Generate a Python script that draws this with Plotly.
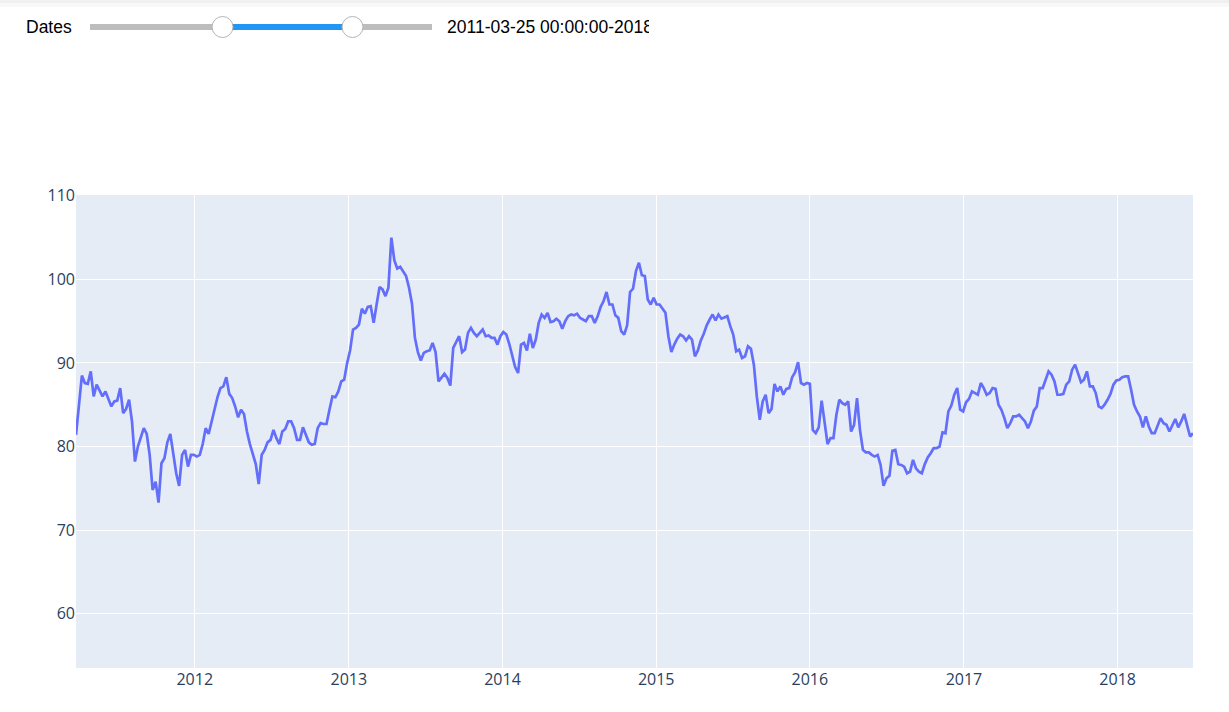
import pandas as pd
import plotly.graph_objects as go

# ---- data (weekly readings from the reference) ----
start_date = "2011-03-25"
seg_2011 = [81.4, 85, 88.5, 87.6, 87.5, 89, 86, 87.4, 86.6, 86, 86.6, 85.6, 84.8, 85.4, 85.5, 87, 84, 84.5,
            85.6, 83, 78.2, 80, 81, 82.2, 81.5, 79, 74.8, 75.8, 73.3, 78, 78.6, 80.5, 81.5, 79, 76.8, 75.3,
            79, 79.6, 77.6, 79, 79, 78.8, 79, 80.3, 82.2, 81.5, 83, 84.5]
seg_2012 = [85.9, 87, 87.2, 88.3, 86.3, 85.8, 84.8, 83.5, 84.4, 83.9, 81.8, 80.3, 79, 77.9, 75.5, 79, 79.6,
            80.5, 80.8, 82, 81, 80.3, 81.8, 82.1, 83, 83, 82.2, 80.8, 80.8, 82.3, 81.4, 80.5, 80.2, 80.3,
            82.2, 82.8, 82.7, 82.7, 84.4, 86, 85.9, 86.6, 87.8, 88, 90]
seg_2013 = [91.5, 94, 94.2, 94.6, 96.5, 95.9, 96.7, 96.8, 94.8, 97, 99.1, 98.8, 98, 99, 105, 102.3, 101.3,
            101.5, 101, 100.4, 99, 97.1, 93, 91.3, 90.3, 91.2, 91.4, 91.5, 92.4, 91.3, 87.8, 88.3, 88.7,
            88.2, 87.3, 91.8, 92.6, 93.2, 91.3, 91.6, 93.6, 94.2, 93.6, 93.2, 93.6, 94, 93.2, 93.3]
seg_2014 = [93, 93, 92.2, 93.2, 93.7, 93.4, 92.3, 91, 89.5, 88.8, 92.2, 92.4, 91.5, 93.5, 91.8, 92.8, 94.8,
            95.8, 95.4, 96, 94.9, 95, 95.3, 95, 94.1, 95, 95.6, 95.8, 95.7, 95.9, 95.4, 95.2, 95, 95.6,
            95.6, 94.8, 95.6, 96.7, 97.4, 98.5, 97, 97, 95.7, 95.4, 93.8, 93.4, 94.5]
seg_2015 = [98.5, 98.9, 101, 102, 100.5, 100.4, 97.6, 97, 97.8, 97, 97, 96.5, 96, 93.2, 91.3, 92.2, 92.9,
            93.4, 93.2, 92.7, 93.2, 92.8, 90.8, 91.5, 92.7, 93.5, 94.5, 95.2, 95.8, 95.1, 95.8, 95.3, 95.5,
            95.6, 94.4, 93.4, 91.4, 91.6, 90.6, 90.8, 92, 91.7, 89.8, 86, 83.2, 85.4, 86.2, 84]
seg_2016 = [84.5, 87.5, 86.6, 87.2, 86.2, 86.9, 87, 88.3, 88.9, 90.1, 87.6, 87.4, 87.6, 87.5, 82, 81.6,
            82.3, 85.5, 82.9, 80.3, 81, 81, 83.8, 85.6, 85.2, 85, 85.4, 81.8, 82.6, 85.8, 82, 79.6, 79.3,
            79.3, 79, 78.8, 79, 77.8, 75.3, 76.2, 76.5, 79.5, 79.6, 77.9, 77.8, 77.6, 76.8, 77]
seg_2017 = [78.4, 77.4, 77, 76.8, 77.9, 78.7, 79.2, 79.8, 79.8, 80, 81.7, 81.6, 84.2, 84.9, 86.2, 87,
            84.4, 84.2, 85.3, 85.7, 86.6, 86.4, 86.2, 87.6, 87, 86.2, 86.4, 87, 86.9, 85, 84.4, 83.4, 82.2,
            82.8, 83.6, 83.6, 83.8, 83.4, 83, 82.2, 83, 84.3, 84.8, 87, 87, 88, 89, 88.6]
seg_2018 = [87.8, 86.2, 86.2, 86.3, 87.4, 87.8, 89.2, 89.8, 88.6, 87.7, 88, 89, 87.2, 87.2, 86.4, 84.8,
            84.6, 85, 85.6, 86.3, 87.4, 87.9, 88, 88.3, 88.4, 88.4, 86.8, 85, 84.2, 83.6, 82.3, 83.6, 82.4,
            81.6, 81.6, 82.5, 83.4, 82.8, 82.6, 81.8, 82.5, 83.3, 82.3, 83, 83.9, 82.4, 81.2, 81.6]
values = seg_2011 + seg_2012 + seg_2013 + seg_2014 + seg_2015 + seg_2016 + seg_2017 + seg_2018
dates = pd.date_range(start_date, periods=len(values), freq="7D")

slider_label = "Dates"
slider_text = "2011-03-25 00:00:00-2018-06-29 00:00:00"

# ---- figure ----
W, H = 1229, 712
ML, MR, MT, MB = 76, 36, 195, 44
PW, PH = W - ML - MR, H - MT - MB


def px(x):
    return (x - ML) / PW


def py(y):
    return (H - MB - y) / PH


fig = go.Figure(go.Scatter(x=dates, y=values, mode="lines",
                           line=dict(color="#636efa", width=2.7), showlegend=False))

shapes = [
    # top shadow
    dict(type="rect", xref="paper", yref="paper", x0=px(0), x1=px(W), y0=py(0), y1=py(3),
         fillcolor="#f0f0f0", line_width=0, layer="above"),
    dict(type="rect", xref="paper", yref="paper", x0=px(0), x1=px(W), y0=py(3), y1=py(7),
         fillcolor="#f8f8f8", line_width=0, layer="above"),
    # slider track
    dict(type="rect", xref="paper", yref="paper", x0=px(90), x1=px(432), y0=py(30), y1=py(24),
         fillcolor="#bdbdbd", line_width=0, layer="above"),
    dict(type="rect", xref="paper", yref="paper", x0=px(222), x1=px(352), y0=py(30), y1=py(24),
         fillcolor="#2196f3", line_width=0, layer="above"),
]
for cx in (222.5, 352.5):
    shapes.append(dict(type="circle", xref="paper", yref="paper",
                       x0=px(cx - 10.5), x1=px(cx + 10.5), y0=py(37.5), y1=py(16.5),
                       fillcolor="white", line=dict(color="#b5b5b5", width=1), layer="above"))

annotations = [
    dict(text=slider_label, xref="paper", yref="paper", x=px(24), y=py(27),
         xanchor="left", yanchor="middle", showarrow=False,
         font=dict(family="Liberation Sans, Arial", size=17.5, color="#000")),
    dict(text=slider_text, xref="paper", yref="paper", x=px(445), y=py(27),
         xanchor="left", yanchor="middle", showarrow=False,
         font=dict(family="Liberation Sans, Arial", size=17.5, color="#000")),
    dict(text=" ", xref="paper", yref="paper", x=px(649), y=py(27),
         xanchor="left", yanchor="middle", showarrow=False, width=560, height=30,
         bgcolor="white", borderpad=0, borderwidth=0),
]

fig.update_layout(
    template="plotly",
    width=W, height=H,
    margin=dict(l=ML, r=MR, t=MT, b=MB),
    shapes=shapes,
    annotations=annotations,
    font=dict(family="Open Sans, verdana, arial, sans-serif", size=16),
    paper_bgcolor="white",
)
fig.update_xaxes(range=[dates[0], dates[-1]], dtick="M12", tickformat="%Y",
                 tickfont=dict(size=16), gridwidth=1.3)
fig.update_yaxes(range=[53.5, 110.1], dtick=10, tickfont=dict(size=16), gridwidth=1.3,
                 zeroline=False)

fig.write_html("out.html", config={"displayModeBar": False})
